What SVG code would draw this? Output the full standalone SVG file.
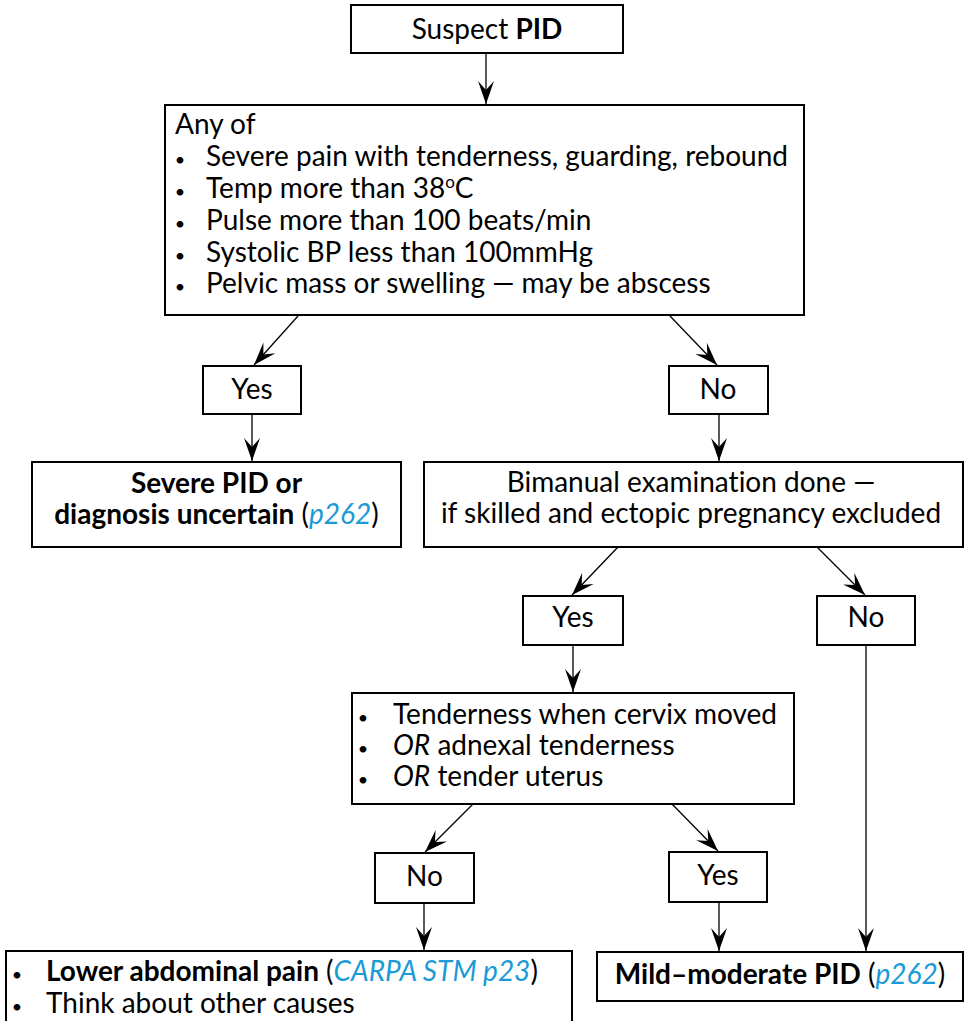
<svg xmlns="http://www.w3.org/2000/svg" width="965" height="1021" viewBox="0 0 965 1021">
<defs>
<marker id="ah" viewBox="-25 -10 27 20" refX="0" refY="0" markerWidth="27" markerHeight="20" markerUnits="userSpaceOnUse" orient="auto">
<path d="M0,0 L-23,-8 L-14,0 L-23,8 Z" fill="#000"/>
</marker>
<style>
.box{fill:#fff;stroke:#000;stroke-width:2}
.t{font-family:Lato,"Open Sans",sans-serif;font-size:28px;fill:#000;font-variant-ligatures:none}
.c{text-anchor:middle}
.b{font-weight:bold}
.i{font-style:italic}
.lk{fill:#1a9ad6;font-style:italic}
.bul{font-family:Lato,"Open Sans",sans-serif;font-size:18px;fill:#000;text-anchor:middle}
.conn line{stroke:#000;stroke-width:1.3;marker-end:url(#ah)}
</style>
</defs>
<rect width="965" height="1021" fill="#fff"/>
<g class="conn">
<line x1="486" y1="53" x2="486" y2="104"/>
<line x1="298" y1="316" x2="254" y2="365"/>
<line x1="252" y1="414" x2="252" y2="461"/>
<line x1="670" y1="316" x2="717" y2="365"/>
<line x1="719" y1="414" x2="719" y2="461"/>
<line x1="618" y1="547" x2="572" y2="595"/>
<line x1="817" y1="547" x2="865" y2="595"/>
<line x1="573" y1="645" x2="573" y2="692"/>
<line x1="473" y1="804" x2="425" y2="852"/>
<line x1="672" y1="804" x2="718" y2="851"/>
<line x1="424" y1="903" x2="424" y2="950"/>
<line x1="719" y1="902" x2="719" y2="951"/>
<line x1="866" y1="645" x2="866" y2="951"/>
</g>
<g id="n1">
<rect class="box" x="351" y="5" width="272" height="48"/>
<text class="t c" x="487" y="39">Suspect <tspan class="b">PID</tspan></text>
</g>
<g id="n2">
<rect class="box" x="165" y="105" width="639" height="210"/>
<text class="t" x="175" y="134">Any of</text>
<text class="bul" x="180" y="166">•</text>
<text class="t" x="206" y="166">Severe pain with tenderness, guarding, rebound</text>
<text class="bul" x="180" y="198">•</text>
<text class="t" x="206" y="198">Temp more than 38<tspan font-size="17" dy="-10">o</tspan><tspan dy="10">C</tspan></text>
<text class="bul" x="180" y="230">•</text>
<text class="t" x="206" y="230">Pulse more than 100 beats/min</text>
<text class="bul" x="180" y="262">•</text>
<text class="t" x="206" y="262">Systolic BP less than 100mmHg</text>
<text class="bul" x="180" y="293">•</text>
<text class="t" x="206" y="293">Pelvic mass or swelling — may be abscess</text>
</g>
<g id="yes1">
<rect class="box" x="203" y="366" width="98" height="48"/>
<text class="t c" x="252" y="399">Yes</text>
</g>
<g id="no1">
<rect class="box" x="669" y="366" width="99" height="48"/>
<text class="t c" x="718" y="399">No</text>
</g>
<g id="severe">
<rect class="box" x="32" y="462" width="369" height="85"/>
<text class="t c b" x="216.5" y="493">Severe PID or</text>
<text class="t c" x="216.5" y="524"><tspan class="b">diagnosis uncertain</tspan> (<tspan class="lk">p262</tspan>)</text>
</g>
<g id="bimanual">
<rect class="box" x="424" y="462" width="539" height="85"/>
<text class="t c" x="691" y="492">Bimanual examination done —</text>
<text class="t c" x="691" y="523">if skilled and ectopic pregnancy excluded</text>
</g>
<g id="yes2">
<rect class="box" x="523" y="596" width="100" height="49"/>
<text class="t c" x="573" y="627">Yes</text>
</g>
<g id="no2">
<rect class="box" x="817" y="596" width="98" height="49"/>
<text class="t c" x="866" y="627">No</text>
</g>
<g id="tender">
<rect class="box" x="352" y="693" width="442" height="111"/>
<text class="bul" x="363" y="724">•</text>
<text class="t" x="393" y="724">Tenderness when cervix moved</text>
<text class="bul" x="363" y="755">•</text>
<text class="t" x="393" y="755"><tspan class="i">OR</tspan> adnexal tenderness</text>
<text class="bul" x="363" y="786">•</text>
<text class="t" x="393" y="786"><tspan class="i">OR</tspan> tender uterus</text>
</g>
<g id="no3">
<rect class="box" x="375" y="853" width="99" height="50"/>
<text class="t c" x="424.5" y="886">No</text>
</g>
<g id="yes3">
<rect class="box" x="669" y="852" width="98" height="50"/>
<text class="t c" x="718" y="885">Yes</text>
</g>
<g id="lower">
<rect class="box" x="6" y="951" width="566" height="90"/>
<text class="bul" x="17" y="981">•</text>
<text class="t" x="46" y="981"><tspan class="b">Lower abdominal pain</tspan> (<tspan class="lk">CARPA STM p23</tspan>)</text>
<text class="bul" x="17" y="1013">•</text>
<text class="t" x="46" y="1013">Think about other causes</text>
</g>
<g id="mild">
<rect class="box" x="597" y="952" width="366" height="49"/>
<text class="t c" x="780" y="984"><tspan class="b">Mild–moderate PID</tspan> (<tspan class="lk">p262</tspan>)</text>
</g>
</svg>
